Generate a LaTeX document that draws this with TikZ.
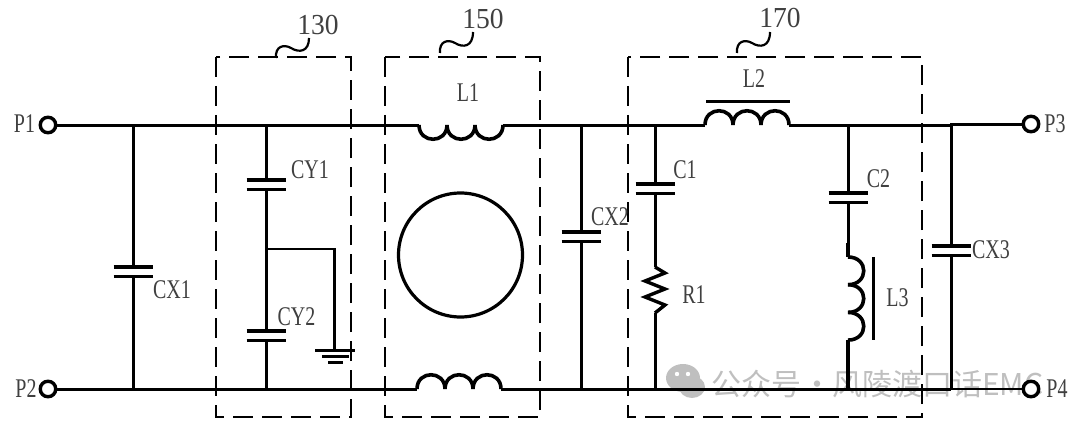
\documentclass[tikz,border=0pt]{standalone}
\usepackage{fontspec}
\setmainfont[FakeStretch=0.74]{Liberation Serif}
\newfontfamily\numfont[FakeStretch=0.95]{Liberation Serif}
\newfontfamily\cjk{Noto Sans CJK SC}
\definecolor{markgray}{gray}{0.75}
\definecolor{inkgray}{gray}{0.25}
\tikzset{
  wire/.style={line width=3pt},
  coilline/.style={line width=3.6pt},
  plate/.style={line width=3.2pt},
  boxline/.style={line width=2.2pt, dash pattern=on 20pt off 9pt},
  squiggle/.style={line width=2.2pt},
  lab/.style={inner sep=0pt, text=inkgray, font=\fontsize{27}{27}\selectfont},
  numlab/.style={inner sep=0pt, text=inkgray, font=\fontsize{29}{29}\selectfont\numfont},
  port/.style={circle, draw, line width=3.4pt, fill=white, minimum size=15.5pt, inner sep=0pt}
}
\begin{document}
\begin{tikzpicture}[x=1pt, y=-1pt]
  \useasboundingbox (0,0) rectangle (1080,428);
  %
  % watermark
  \fill[markgray] (683,378) ellipse (17 and 14);
  \fill[markgray] (692,387) ellipse (13 and 11);
  \fill[white] (677,374) circle (2.2);
  \fill[white] (688,374) circle (2.2);
  \node[anchor=west, inner sep=0pt, text=markgray, font=\fontsize{30}{30}\selectfont\cjk] (mark) at (711,384) {公众号\hspace{1pt}·\hspace{0pt}风陵渡口话EMC};
  %
  % ports
  \node[port] (P1) at (48,125) {};
  \node[port] (P2) at (48,389) {};
  \node[port] (P3) at (1031,124) {};
  \node[port] (P4) at (1031,389) {};
  %
  % capacitor plates
  \foreach \capname/\capx/\capy in {cxa/133/267, cya/266/180, cyb/266/331, cxb/581/232, ca/655/184, cb/848/193, cxc/951/246}
  {
    \coordinate (\capname t) at (\capx,\capy);
    \coordinate (\capname b) at (\capx,\capy+9.5);
    \draw[plate] ([xshift=-19.5pt]\capname t) -- ([xshift=19.5pt]\capname t);
    \draw[plate] ([xshift=-19.5pt]\capname b) -- ([xshift=19.5pt]\capname b);
  }
  %
  % rails
  \coordinate (la) at (419,125);  \coordinate (lb) at (503,125);
  \coordinate (lc) at (705,125);  \coordinate (ld) at (789,125);
  \coordinate (le) at (417,389);  \coordinate (lf) at (501,389);
  \coordinate (top) at (951,124);
  \draw[wire] (P1) -- (la);                    % top rail
  \draw[wire] (lb) -- (lc);
  \draw[wire] (ld) -- (951,125) -- (top) -- (P3);
  \draw[wire] (P2) -- (le);                    % bottom rail
  \draw[wire] (lf) -- (951,389);
  \draw[line width=2.4pt] (951,389) -- (P4);
  %
  % shunt branches
  \draw[wire] (133,125) -- (cxat);             % cx1
  \draw[wire] (cxab) -- (133,389);
  \draw[wire] (266,125) -- (cyat);             % cy1, cy2
  \draw[wire] (cyab) -- (cybt);
  \draw[wire] (cybb) -- (266,389);
  \draw[wire] (581,125) -- (cxbt);             % cx2
  \draw[wire] (cxbb) -- (581,389);
  \draw[wire] (655,125) -- (cat);              % c1, r1
  \coordinate (ra) at (655,267);
  \coordinate (rb) at (655,313);
  \draw[wire] (cab) -- (ra);
  \draw[wire] (rb) -- (655,389);
  \draw[wire] (848,125) -- (cbt);              % c2, l3
  \coordinate (lg) at (848,257);
  \coordinate (lh) at (848,340);
  \draw[wire] (cbb) -- (lg);
  \draw[coilline] (848,243) -- (lg);
  \draw[coilline] (lh) -- (848,389);
  \draw[wire] (top) -- (cxct);                 % cx3
  \draw[wire] (cxcb) -- (951,389);
  %
  % ground
  \coordinate (gnd) at (334.7,350.7);
  \draw[line width=2.8pt] (266,249) -- (334.7,249) -- (gnd);
  \draw[wire] ([xshift=-19.7pt]gnd) -- ([xshift=20.3pt]gnd);
  \draw[wire] (322,356.7) -- (349,356.7);
  \draw[wire] (328,362.7) -- (343,362.7);
  %
  % resistor
  \draw[line width=3.4pt] (ra) -- (665,273) -- (645,281) -- (665,289) -- (645,297) -- (665,305) -- (rb);
  %
  % coils
  \foreach \k in {0,1,2}
  {
    \draw[coilline] ([xshift=\k*28pt]la) .. controls +(0,19) and +(0,19) .. ++(28,0);
    \draw[coilline] ([xshift=\k*28pt]le) .. controls +(0,-19) and +(0,-19) .. ++(28,0);
    \draw[coilline] ([xshift=\k*28pt]lc) .. controls +(0,-19) and +(0,-19) .. ++(28,0);
    \draw[coilline] ([yshift=-\k*27.7pt]lg) .. controls +(21,0) and +(21,0) .. ++(0,27.7);
  }
  \draw[wire] (706,102) -- (790,102);          % core bars
  \draw[wire] (873,257) -- (873,340);
  %
  \draw[line width=3.2pt] (460.5,255) circle (62);  % ring
  %
  % dashed boxes
  \draw[boxline] (216,57) rectangle (351,417);
  \draw[boxline] (385,57) rectangle (540,417);
  \draw[boxline] (628,57) rectangle (922,417);
  %
  % squiggles
  \draw[squiggle] (276,58) .. controls (275,46) and (284,44) .. (291,48) .. controls (299,53) and (309,52) .. (309,38);
  \draw[squiggle] (440,53) .. controls (439,41) and (448,39) .. (455,43) .. controls (463,48) and (473,47) .. (473,32);
  \draw[squiggle] (737,53) .. controls (736,41) and (745,39) .. (752,43) .. controls (760,48) and (770,47) .. (770,32);
  %
  % labels
  \node[numlab] (n130) at (318,25) {130};
  \node[numlab] (n150) at (483,19) {150};
  \node[numlab] (n170) at (780,18) {170};
  \node[lab] (tP1) at (24.5,124) {P1};
  \node[lab] (tP2) at (26,389) {P2};
  \node[lab] (tP3) at (1055,124) {P3};
  \node[lab] (tP4) at (1057,389) {P4};
  \node[lab] (tCX1) at (172,290) {CX1};
  \node[lab] (tCY1) at (310,170) {CY1};
  \node[lab] (tCY2) at (296.5,317) {CY2};
  \node[lab] (tL1) at (468,93) {L1};
  \node[lab] (tCX2) at (610,217) {CX2};
  \node[lab] (tC1) at (685,170) {C1};
  \node[lab] (tR1) at (694,295) {R1};
  \node[lab] (tL2) at (754,79) {L2};
  \node[lab] (tC2) at (878.5,179) {C2};
  \node[lab] (tL3) at (897.5,298) {L3};
  \node[lab] (tCX3) at (991,250) {CX3};
\end{tikzpicture}
\end{document}
